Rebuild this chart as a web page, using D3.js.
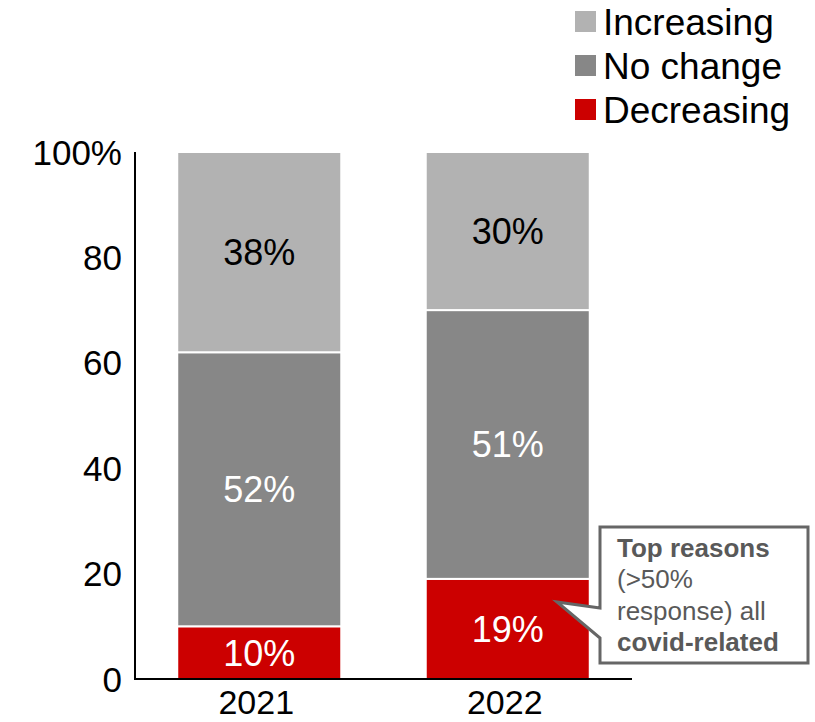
<!DOCTYPE html>
<html>
<head>
<meta charset="utf-8">
<script src="https://cdn.jsdelivr.net/npm/d3@7"></script>
<style>
  html, body { margin: 0; padding: 0; background: #fff; }
  svg { display: block; font-family: Arial, "Liberation Sans", sans-serif; }
</style>
</head>
<body>
<svg id="chart" width="815" height="722"></svg>
<script>
// data
const years = ['2021', '2022'];
const seriesNames = ['Decreasing', 'No change', 'Increasing'];
const decreasing = [10, 19];
const noChange = [52, 51];
const increasing = [38, 30];
const yTicks = [0, 20, 40, 60, 80, 100];
const legendOrder = ['Increasing', 'No change', 'Decreasing'];

const colors = { 'Decreasing': '#cc0000', 'No change': '#878787', 'Increasing': '#b2b2b2' };
const labelColors = { 'Decreasing': '#fff', 'No change': '#fff', 'Increasing': '#000' };

const svg = d3.select('#chart');
const x = d3.scaleBand().domain(years).range([135, 632]).paddingInner(0.34).paddingOuter(0.17);
const y = d3.scaleLinear().domain([0, 100]).range([679, 152]);

// stack
const rows = years.map((yr, i) => ({ year: yr, 'Decreasing': decreasing[i], 'No change': noChange[i], 'Increasing': increasing[i] }));
const stacked = d3.stack().keys(seriesNames)(rows);

const g = svg.append('g');
stacked.forEach(layer => {
  const key = layer.key;
  g.selectAll(null).data(layer).enter().append('rect')
    .attr('x', d => x(d.data.year))
    .attr('width', x.bandwidth())
    .attr('y', d => y(d[1]))
    .attr('height', d => y(d[0]) - y(d[1]))
    .attr('fill', colors[key])
    .attr('stroke', '#fff')
    .attr('stroke-width', 2);
  g.selectAll(null).data(layer).enter().append('text')
    .attr('x', d => x(d.data.year) + x.bandwidth() / 2)
    .attr('y', d => (y(d[0]) + y(d[1])) / 2 + 13)
    .attr('text-anchor', 'middle')
    .style('font-size', '36px')
    .attr('fill', labelColors[key])
    .text(d => (d[1] - d[0]) + '%');
});

// axes
svg.append('line').attr('x1', 135).attr('x2', 135).attr('y1', 152).attr('y2', 680)
  .attr('stroke', '#000').attr('stroke-width', 2);
svg.append('line').attr('x1', 134).attr('x2', 632).attr('y1', 679).attr('y2', 679)
  .attr('stroke', '#000').attr('stroke-width', 2);

svg.selectAll('.ytick').data(yTicks).enter().append('text')
  .attr('x', 122).attr('y', d => y(d) + 12.5)
  .attr('text-anchor', 'end')
  .style('font-size', '35px')
  .attr('fill', '#000')
  .text(d => d === 100 ? '100%' : d);

svg.selectAll('.xtick').data(years).enter().append('text')
  .attr('x', d => x(d) + x.bandwidth() / 2 - 3).attr('y', 714)
  .attr('text-anchor', 'middle')
  .style('font-size', '34px')
  .attr('fill', '#000')
  .text(d => d);

// legend
const lg = svg.append('g');
legendOrder.forEach((k, i) => {
  const top = 11 + i * 44;
  lg.append('rect').attr('x', 575).attr('y', top).attr('width', 21).attr('height', 21).attr('fill', colors[k]);
  lg.append('text').attr('x', 603).attr('y', top + 24).style('font-size', '37px').attr('fill', '#000').text(k);
});

// callout
const callout = svg.append('g');
callout.append('path')
  .attr('d', 'M600,527 L808,527 L808,663 L600,663 L600,638 L557,602 L600,608 Z')
  .attr('fill', '#fff').attr('stroke', '#666').attr('stroke-width', 3).attr('stroke-linejoin', 'miter');
const noteLines = [
  [{ t: 'Top reasons', b: true }],
  [{ t: '(>50%', b: false }],
  [{ t: 'response) all', b: false }],
  [{ t: 'covid-related', b: true }]
];
noteLines.forEach((parts, i) => {
  const t = callout.append('text').attr('x', 617).attr('y', 557 + i * 31.3)
    .style('font-size', '26px').attr('fill', '#595959');
  parts.forEach(p => t.append('tspan').style('font-weight', p.b ? 'bold' : 'normal').text(p.t));
});
</script>
</body>
</html>
